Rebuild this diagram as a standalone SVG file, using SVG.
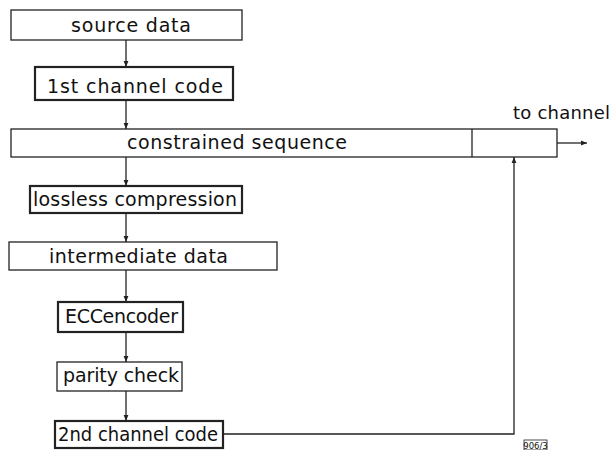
<svg xmlns="http://www.w3.org/2000/svg" width="614" height="450" viewBox="0 0 614 450">
<style>
.box{fill:#fff;stroke:#222;stroke-width:1.3}
.thick{stroke-width:2.2}
.lbl{font-family:"DejaVu Sans",sans-serif;font-size:19px;fill:#111;text-anchor:middle}
.conn{stroke:#222;stroke-width:1.3;fill:none}
</style>
<defs>
<marker id="ah" viewBox="0 0 10 10" refX="10" refY="5" markerWidth="7" markerHeight="6" markerUnits="userSpaceOnUse" orient="auto">
<path d="M0,1 L10,5 L0,9 z" fill="#222"/>
</marker>
</defs>
<rect width="614" height="450" fill="#fff"/>
<g id="connectors">
<line class="conn" x1="126" y1="40" x2="126" y2="67" marker-end="url(#ah)"/>
<line class="conn" x1="126" y1="100" x2="126" y2="129" marker-end="url(#ah)"/>
<line class="conn" x1="126" y1="157" x2="126" y2="186" marker-end="url(#ah)"/>
<line class="conn" x1="126" y1="213" x2="126" y2="242" marker-end="url(#ah)"/>
<line class="conn" x1="126" y1="270" x2="126" y2="302" marker-end="url(#ah)"/>
<line class="conn" x1="126" y1="332" x2="126" y2="362" marker-end="url(#ah)"/>
<line class="conn" x1="126" y1="391" x2="126" y2="421" marker-end="url(#ah)"/>
<polyline class="conn" points="223,434 514,434 514,157" marker-end="url(#ah)"/>
<line class="conn" x1="557" y1="143" x2="587" y2="143" marker-end="url(#ah)"/>
</g>
<g id="source-data">
<rect class="box" x="11" y="10" width="231" height="30"/>
<text class="lbl" x="131" y="32" textLength="120" lengthAdjust="spacing">source data</text>
</g>
<g id="first-channel-code">
<rect class="box thick" x="35" y="67" width="198" height="33"/>
<text class="lbl" x="135" y="93" textLength="176" lengthAdjust="spacing">1st channel code</text>
</g>
<g id="constrained-sequence">
<rect class="box" x="11" y="129" width="546" height="28"/>
<line class="conn" x1="472" y1="129" x2="472" y2="157"/>
<text class="lbl" x="237" y="149" textLength="220" lengthAdjust="spacing">constrained sequence</text>
</g>
<g id="lossless-compression">
<rect class="box thick" x="30" y="186" width="212" height="27"/>
<text class="lbl" x="135" y="206" textLength="204" lengthAdjust="spacing">lossless compression</text>
</g>
<g id="intermediate-data">
<rect class="box" x="9" y="242" width="268" height="28"/>
<text class="lbl" x="138.5" y="263" textLength="179" lengthAdjust="spacing">intermediate data</text>
</g>
<g id="ecc-encoder">
<rect class="box thick" x="58" y="302" width="125" height="30"/>
<text class="lbl" x="121.5" y="323" textLength="113" lengthAdjust="spacing">ECCencoder</text>
</g>
<g id="parity-check">
<rect class="box" x="57" y="362" width="125" height="29"/>
<text class="lbl" x="121" y="382" textLength="116" lengthAdjust="spacing">parity check</text>
</g>
<g id="second-channel-code">
<rect class="box thick" x="55" y="421" width="168" height="27"/>
<text class="lbl" x="138" y="441" textLength="160" lengthAdjust="spacingAndGlyphs">2nd channel code</text>
</g>
<g id="to-channel">
<text x="513" y="119" font-family="DejaVu Sans, sans-serif" font-size="18" fill="#111" textLength="97" lengthAdjust="spacing">to channel</text>
</g>
<g id="figure-number">
<rect x="524" y="440" width="23" height="10" fill="none" stroke="#222" stroke-width="0.8"/>
<text x="535.5" y="449" font-family="DejaVu Sans, sans-serif" font-size="8.5" fill="#111" text-anchor="middle">906/3</text>
</g>
</svg>
